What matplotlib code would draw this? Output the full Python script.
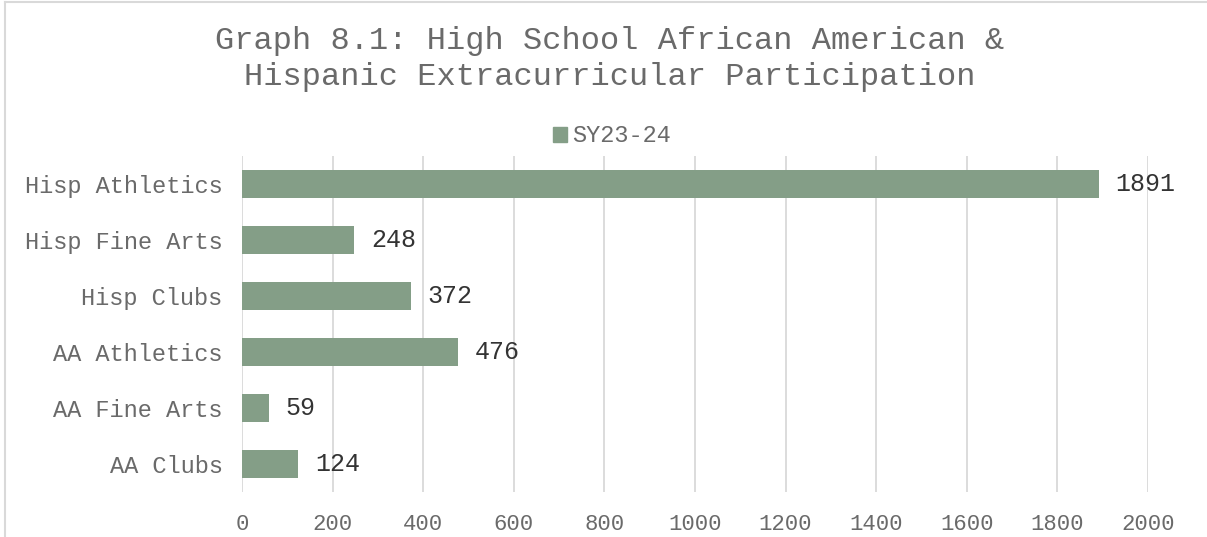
import matplotlib.pyplot as plt
from matplotlib.lines import Line2D
from matplotlib.patches import Patch

# participation counts, top to bottom as listed on the chart
categories = ["Hisp Athletics", "Hisp Fine Arts", "Hisp Clubs",
              "AA Athletics", "AA Fine Arts", "AA Clubs"]
counts = [1891, 248, 372, 476, 59, 124]
series_name = "SY23-24"
x_ticks = [0, 200, 400, 600, 800, 1000, 1200, 1400, 1600, 1800, 2000]

bar_color = "#849E87"
text_grey = "#6A6A6A"
grid_grey = "#D9D9D9"

plt.rcParams["font.family"] = ["Liberation Mono", "DejaVu Sans Mono"]

fig = plt.figure(figsize=(12.07, 5.37), dpi=100)
ax = fig.add_axes([242 / 1207, 1 - 492 / 537, (1148 - 242) / 1207, (492 - 156) / 537])

y_pos = list(range(len(categories)))
ax.barh(y_pos, counts, height=0.5, color=bar_color, zorder=3)
ax.set_ylim(len(categories) - 0.5, -0.5)
ax.set_xlim(0, 2000)

ax.set_yticks(y_pos)
ax.set_yticklabels(categories, fontsize=17, color=text_grey)
ax.set_xticks(x_ticks)
ax.set_xticklabels([str(t) for t in x_ticks], fontsize=16, color=text_grey)
ax.tick_params(axis="y", length=0, pad=14)
ax.tick_params(axis="x", length=0, pad=16)

ax.grid(axis="x", color=grid_grey, linewidth=1.3, zorder=0)
for s in ax.spines.values():
    s.set_visible(False)

for y, v in zip(y_pos, counts):
    ax.annotate(str(v), (v, y), xytext=(12, 0), textcoords="offset points",
                va="center", ha="left", fontsize=18, color="#333333")

fig.text(610 / 1207, 1 - 59 / 537,
         "Graph 8.1: High School African American &\nHispanic Extracurricular Participation",
         ha="center", va="center", fontsize=23, color=text_grey, linespacing=1.22)

fig.legend(handles=[Patch(color=bar_color, label=series_name)],
           loc="center", bbox_to_anchor=(612 / 1207, 1 - 136 / 537),
           frameon=False, fontsize=17, handlelength=0.6, handleheight=0.6,
           handletextpad=0.2, labelcolor=text_grey)

# chart area border (left and top edges)
fig.add_artist(Line2D([5 / 1207, 5 / 1207], [0, 1 - 2 / 537], transform=fig.transFigure,
                      color=grid_grey, linewidth=1.5))
fig.add_artist(Line2D([5 / 1207, 1], [1 - 2 / 537, 1 - 2 / 537], transform=fig.transFigure,
                      color=grid_grey, linewidth=1.5))

fig.savefig("out.png", dpi=100, facecolor="white")
